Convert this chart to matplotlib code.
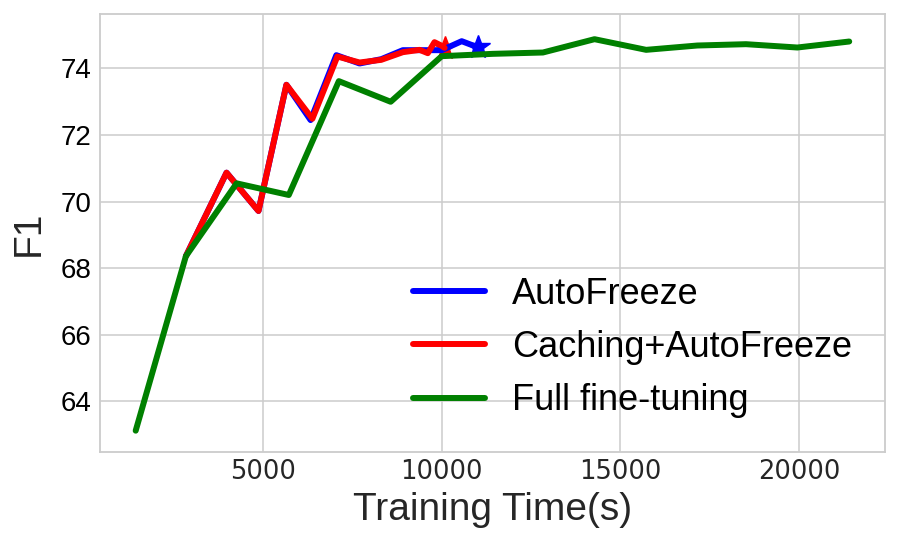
import matplotlib
matplotlib.use("Agg")
import matplotlib.pyplot as plt

# Data
auto_x = [2840, 3978, 4872, 5653, 6330, 7050, 7700, 8307, 8911, 9600, 10000, 10558, 11000]
auto_y = [68.36, 70.87, 69.72, 73.51, 72.45, 74.40, 74.15, 74.28, 74.55, 74.55, 74.55, 74.82, 74.64]

cache_x = [2840, 3978, 4872, 5653, 6380, 7078, 7700, 8307, 8911, 9380, 9609, 9796, 9983, 10080]
cache_y = [68.36, 70.87, 69.72, 73.51, 72.49, 74.36, 74.18, 74.26, 74.49, 74.56, 74.46, 74.79, 74.69, 74.62]

full_x = [1436, 2840, 4260, 5720, 7120, 8570, 10000, 11430, 12830, 14274, 15718, 17150, 18511, 19950, 21400]
full_y = [63.12, 68.36, 70.55, 70.20, 73.62, 73.00, 74.37, 74.44, 74.48, 74.88, 74.56, 74.69, 74.73, 74.63, 74.81]

labels = ["AutoFreeze", "Caching+AutoFreeze", "Full fine-tuning"]
xticks = [5000, 10000, 15000, 20000]
yticks = [64, 66, 68, 70, 72, 74]

plt.rcParams['font.family'] = ['Liberation Sans', 'DejaVu Sans']
plt.rcParams['lines.solid_capstyle'] = 'round'

fig = plt.figure(figsize=(9.01, 5.47), dpi=100)
ax = fig.add_axes([0.111, 0.1737, 0.871, 0.8003])
ax.set_facecolor('white')

lw = 4.3
ax.plot(cache_x[-1:], cache_y[-1:], linestyle='none', marker='*', ms=17, color='red', zorder=2)
ax.plot(auto_x, auto_y, color='blue', lw=lw, label=labels[0], zorder=3)
ax.plot(auto_x[-1:], auto_y[-1:], linestyle='none', marker='*', ms=18, color='blue', zorder=3)
ax.plot(cache_x, cache_y, color='red', lw=lw, label=labels[1], zorder=4)
ax.plot(full_x, full_y, color='green', lw=lw, label=labels[2], zorder=5)

ax.set_xlim(438, 22395)
ax.set_ylim(62.48, 75.63)
ax.set_xticks(xticks)
ax.set_yticks(yticks)
ax.tick_params(axis='x', labelsize=18.5, labelcolor='#262626', length=0, pad=5)
ax.tick_params(axis='y', labelsize=20, labelcolor='black', length=0, pad=6)
for t in ax.get_xticklabels():
    t.set_family('DejaVu Sans')
ax.grid(True, color='#cccccc', lw=1.1)
ax.set_axisbelow(True)
for s in ax.spines.values():
    s.set_color('#cccccc')
    s.set_linewidth(1.3)

ax.set_xlabel("Training Time(s)", fontsize=28, color='#262626', labelpad=5)
ax.set_ylabel("F1", fontsize=28, color='#262626', labelpad=10)

leg = ax.legend(loc='lower right', bbox_to_anchor=(1.0, 0.003), fontsize=26, frameon=False,
                handlelength=2.0, handletextpad=0.75, labelspacing=0.5)

fig.savefig("out.png", dpi=100)
